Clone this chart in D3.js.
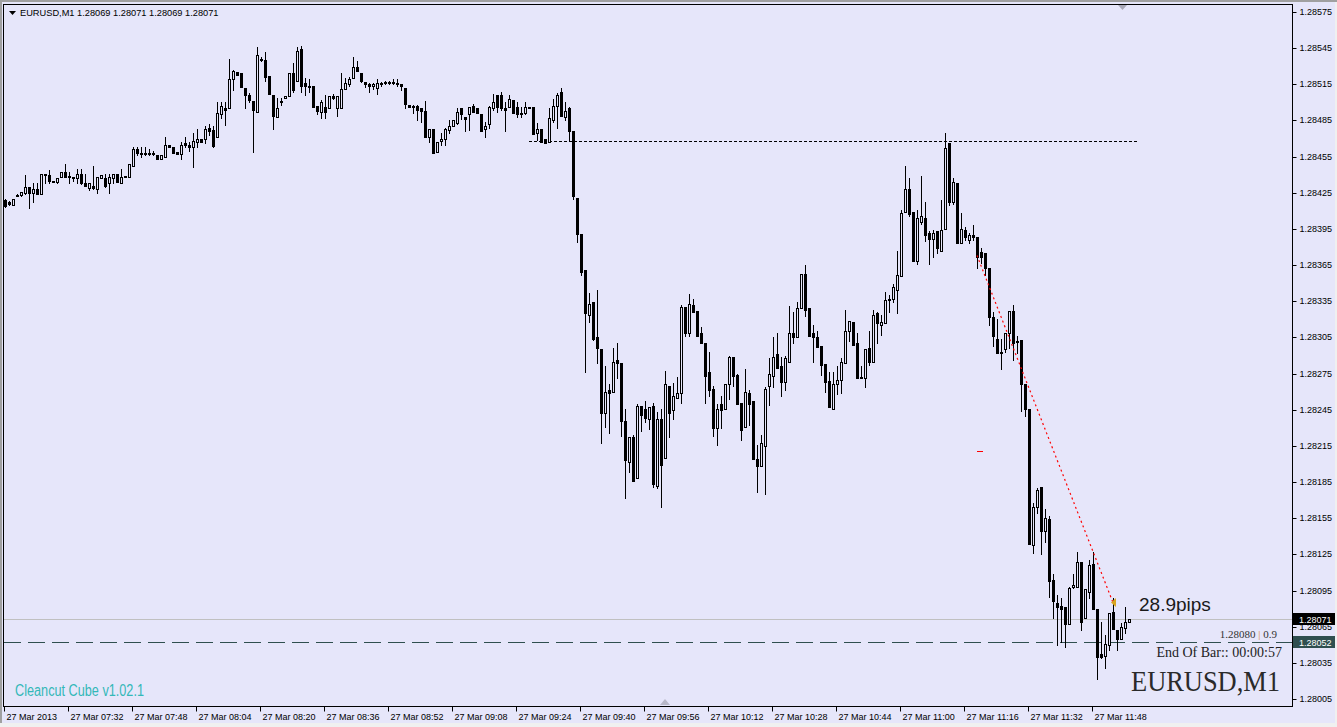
<!DOCTYPE html>
<html><head><meta charset="utf-8">
<script src="https://cdn.jsdelivr.net/npm/d3@7"></script>
<style>html,body{margin:0;padding:0;background:#F0F0F0;overflow:hidden}</style>
</head><body>
<svg id="c" width="1337" height="727"></svg>
<script>
// ---------------- DATA ----------------
const symbol = "EURUSD,M1";
const headerOHLC = [1.28069, 1.28071, 1.28069, 1.28071];

const opens = [
1.28419,1.28417,1.28415,1.28422,1.28423,1.28425,1.28430,1.28425,1.28428,1.28424,
1.28441,1.28440,1.28435,1.28434,1.28438,1.28442,1.28438,1.28438,1.28437,1.28441,
1.28433,1.28429,1.28431,1.28428,1.28437,1.28437,1.28433,1.28437,1.28441,1.28433,
1.28439,1.28438,1.28447,1.28461,1.28458,1.28457,1.28458,1.28457,1.28456,1.28453,
1.28455,1.28465,1.28463,1.28459,1.28457,1.28466,1.28465,1.28463,1.28467,1.28470,
1.28470,1.28479,1.28477,1.28471,1.28490,1.28495,1.28495,1.28519,1.28525,1.28524,
1.28512,1.28506,1.28501,1.28492,1.28535,1.28535,1.28522,1.28506,1.28488,1.28500,
1.28504,1.28505,1.28524,1.28518,1.28544,1.28516,1.28514,1.28514,1.28497,1.28492,
1.28496,1.28495,1.28505,1.28495,1.28495,1.28511,1.28515,1.28520,1.28529,1.28524,
1.28517,1.28515,1.28514,1.28512,1.28516,1.28516,1.28517,1.28516,1.28516,1.28515,
1.28512,1.28498,1.28497,1.28497,1.28495,1.28493,1.28471,1.28478,1.28459,1.28468,
1.28470,1.28477,1.28480,1.28483,1.28495,1.28488,1.28490,1.28497,1.28495,1.28490,
1.28478,1.28482,1.28495,1.28506,1.28506,1.28495,1.28496,1.28502,1.28496,1.28490,
1.28491,1.28496,1.28496,1.28475,1.28478,1.28470,1.28467,1.28485,1.28497,1.28509,
1.28488,1.28495,1.28476,1.28421,1.28391,1.28361,1.28324,1.28334,1.28305,1.28295,
1.28242,1.28261,1.28260,1.28286,1.28284,1.28236,1.28202,1.28222,1.28188,1.28248,
1.28246,1.28237,1.28248,1.28182,1.28237,1.28205,1.28265,1.28245,1.28255,1.28259,
1.28330,1.28309,1.28332,1.28327,1.28309,1.28300,1.28276,1.28262,1.28230,1.28250,
1.28246,1.28266,1.28289,1.28274,1.28251,1.28231,1.28259,1.28252,1.28204,1.28198,
1.28215,1.28265,1.28273,1.28291,1.28281,1.28268,1.28285,1.28309,1.28305,1.28329,
1.28358,1.28329,1.28309,1.28305,1.28298,1.28283,1.28269,1.28246,1.28266,1.28270,
1.28284,1.28310,1.28318,1.28300,1.28272,1.28271,1.28296,1.28285,1.28325,1.28315,
1.28317,1.28336,1.28337,1.28344,1.28356,1.28409,1.28428,1.28409,1.28368,1.28401,
1.28404,1.28392,1.28387,1.28393,1.28377,1.28395,1.28466,1.28417,1.28433,1.28383,
1.28394,1.28386,1.28390,1.28388,1.28376,1.28375,1.28363,1.28322,1.28304,1.28293,
1.28295,1.28309,1.28327,1.28302,1.28303,1.28266,1.28246,1.28133,1.28164,1.28181,
1.28144,1.28154,1.28104,1.28085,1.28082,1.28081,1.28067,1.28098,1.28098,1.28119,
1.28072,1.28094,1.28117,1.28080,1.28042,1.28041,1.28050,1.28077,1.28062,1.28055,
1.28064,1.28069];

const highs = [
1.28420,1.28418,1.28420,1.28424,1.28426,1.28440,1.28430,1.28433,1.28433,1.28441,
1.28441,1.28444,1.28435,1.28437,1.28442,1.28449,1.28442,1.28438,1.28445,1.28445,
1.28441,1.28433,1.28447,1.28438,1.28440,1.28441,1.28441,1.28441,1.28441,1.28445,
1.28439,1.28449,1.28463,1.28463,1.28463,1.28463,1.28461,1.28460,1.28456,1.28456,
1.28471,1.28465,1.28463,1.28459,1.28467,1.28471,1.28467,1.28475,1.28478,1.28470,
1.28480,1.28482,1.28480,1.28500,1.28500,1.28500,1.28536,1.28527,1.28525,1.28524,
1.28512,1.28508,1.28501,1.28546,1.28538,1.28542,1.28522,1.28506,1.28504,1.28504,
1.28505,1.28524,1.28533,1.28546,1.28547,1.28520,1.28519,1.28514,1.28497,1.28502,
1.28506,1.28505,1.28507,1.28505,1.28524,1.28520,1.28521,1.28538,1.28534,1.28524,
1.28517,1.28516,1.28516,1.28519,1.28517,1.28518,1.28518,1.28519,1.28519,1.28515,
1.28512,1.28498,1.28498,1.28498,1.28495,1.28501,1.28478,1.28478,1.28467,1.28475,
1.28479,1.28485,1.28485,1.28495,1.28495,1.28488,1.28496,1.28499,1.28495,1.28490,
1.28484,1.28497,1.28507,1.28506,1.28509,1.28500,1.28506,1.28502,1.28500,1.28496,
1.28500,1.28496,1.28496,1.28483,1.28478,1.28470,1.28495,1.28503,1.28508,1.28512,
1.28500,1.28496,1.28476,1.28421,1.28391,1.28361,1.28342,1.28334,1.28344,1.28295,
1.28281,1.28266,1.28296,1.28300,1.28284,1.28246,1.28222,1.28224,1.28250,1.28248,
1.28252,1.28247,1.28251,1.28243,1.28246,1.28277,1.28265,1.28267,1.28272,1.28332,
1.28330,1.28341,1.28337,1.28327,1.28314,1.28300,1.28293,1.28265,1.28250,1.28256,
1.28266,1.28290,1.28289,1.28275,1.28251,1.28279,1.28261,1.28252,1.28216,1.28224,
1.28264,1.28288,1.28305,1.28309,1.28289,1.28290,1.28331,1.28326,1.28334,1.28358,
1.28365,1.28329,1.28315,1.28310,1.28298,1.28283,1.28276,1.28276,1.28281,1.28288,
1.28328,1.28319,1.28318,1.28309,1.28281,1.28295,1.28310,1.28328,1.28326,1.28324,
1.28343,1.28340,1.28349,1.28377,1.28411,1.28447,1.28437,1.28409,1.28411,1.28439,
1.28417,1.28393,1.28394,1.28393,1.28419,1.28475,1.28466,1.28437,1.28433,1.28408,
1.28397,1.28392,1.28398,1.28388,1.28379,1.28375,1.28363,1.28326,1.28320,1.28304,
1.28309,1.28327,1.28332,1.28306,1.28303,1.28266,1.28246,1.28168,1.28180,1.28181,
1.28163,1.28157,1.28109,1.28091,1.28089,1.28081,1.28098,1.28109,1.28127,1.28119,
1.28096,1.28120,1.28127,1.28080,1.28069,1.28058,1.28076,1.28089,1.28062,1.28068,
1.28081,1.28071];

const lows = [
1.28413,1.28415,1.28415,1.28422,1.28422,1.28424,1.28412,1.28417,1.28424,1.28424,
1.28433,1.28433,1.28434,1.28433,1.28438,1.28438,1.28433,1.28435,1.28433,1.28432,
1.28431,1.28427,1.28428,1.28425,1.28437,1.28430,1.28425,1.28433,1.28434,1.28433,
1.28438,1.28438,1.28447,1.28456,1.28455,1.28456,1.28456,1.28456,1.28453,1.28453,
1.28455,1.28463,1.28458,1.28457,1.28453,1.28463,1.28460,1.28446,1.28463,1.28467,
1.28466,1.28473,1.28463,1.28471,1.28487,1.28481,1.28495,1.28510,1.28523,1.28513,
1.28495,1.28500,1.28459,1.28492,1.28534,1.28518,1.28507,1.28478,1.28488,1.28498,
1.28504,1.28505,1.28509,1.28518,1.28509,1.28506,1.28509,1.28496,1.28490,1.28487,
1.28487,1.28495,1.28503,1.28489,1.28495,1.28511,1.28514,1.28520,1.28526,1.28517,
1.28513,1.28509,1.28511,1.28507,1.28514,1.28515,1.28515,1.28515,1.28514,1.28510,
1.28495,1.28496,1.28491,1.28485,1.28484,1.28471,1.28467,1.28458,1.28459,1.28465,
1.28465,1.28475,1.28480,1.28482,1.28486,1.28476,1.28477,1.28492,1.28491,1.28476,
1.28471,1.28479,1.28494,1.28492,1.28494,1.28476,1.28496,1.28491,1.28488,1.28488,
1.28490,1.28495,1.28474,1.28469,1.28467,1.28466,1.28467,1.28484,1.28479,1.28489,
1.28485,1.28468,1.28420,1.28384,1.28357,1.28276,1.28318,1.28303,1.28284,1.28217,
1.28231,1.28226,1.28260,1.28271,1.28223,1.28172,1.28193,1.28186,1.28188,1.28227,
1.28235,1.28229,1.28181,1.28180,1.28164,1.28205,1.28222,1.28237,1.28255,1.28251,
1.28306,1.28306,1.28326,1.28306,1.28300,1.28251,1.28256,1.28223,1.28216,1.28230,
1.28246,1.28254,1.28265,1.28250,1.28220,1.28231,1.28232,1.28204,1.28177,1.28198,
1.28175,1.28249,1.28264,1.28280,1.28256,1.28261,1.28285,1.28300,1.28305,1.28329,
1.28323,1.28306,1.28285,1.28297,1.28274,1.28260,1.28247,1.28246,1.28258,1.28259,
1.28284,1.28302,1.28299,1.28271,1.28271,1.28264,1.28282,1.28285,1.28300,1.28307,
1.28317,1.28326,1.28334,1.28325,1.28356,1.28409,1.28406,1.28368,1.28366,1.28399,
1.28385,1.28366,1.28372,1.28375,1.28377,1.28395,1.28415,1.28416,1.28383,1.28383,
1.28386,1.28383,1.28386,1.28363,1.28367,1.28357,1.28315,1.28298,1.28292,1.28279,
1.28293,1.28296,1.28286,1.28292,1.28244,1.28240,1.28134,1.28126,1.28159,1.28125,
1.28135,1.28090,1.28072,1.28050,1.28052,1.28048,1.28067,1.28097,1.28098,1.28062,
1.28072,1.28089,1.28080,1.28022,1.28039,1.28031,1.28046,1.28063,1.28046,1.28055,
1.28060,1.28069];

const closes = [
1.28414,1.28416,1.28420,1.28423,1.28426,1.28430,1.28425,1.28428,1.28424,1.28441,
1.28440,1.28435,1.28434,1.28437,1.28442,1.28438,1.28439,1.28437,1.28441,1.28433,
1.28431,1.28433,1.28429,1.28438,1.28440,1.28431,1.28438,1.28441,1.28434,1.28438,
1.28438,1.28449,1.28461,1.28458,1.28457,1.28458,1.28457,1.28458,1.28453,1.28456,
1.28465,1.28463,1.28458,1.28457,1.28465,1.28465,1.28463,1.28468,1.28470,1.28467,
1.28478,1.28476,1.28464,1.28491,1.28497,1.28494,1.28519,1.28526,1.28523,1.28513,
1.28506,1.28502,1.28494,1.28539,1.28536,1.28521,1.28507,1.28489,1.28495,1.28501,
1.28505,1.28524,1.28510,1.28543,1.28514,1.28514,1.28513,1.28496,1.28493,1.28500,
1.28492,1.28505,1.28504,1.28505,1.28511,1.28516,1.28519,1.28529,1.28526,1.28518,
1.28515,1.28514,1.28515,1.28516,1.28515,1.28517,1.28516,1.28517,1.28515,1.28514,
1.28499,1.28496,1.28496,1.28494,1.28493,1.28471,1.28478,1.28458,1.28467,1.28470,
1.28478,1.28480,1.28485,1.28492,1.28490,1.28486,1.28496,1.28492,1.28491,1.28476,
1.28480,1.28496,1.28500,1.28496,1.28495,1.28494,1.28503,1.28491,1.28490,1.28491,
1.28496,1.28495,1.28474,1.28478,1.28467,1.28466,1.28487,1.28497,1.28506,1.28489,
1.28493,1.28476,1.28422,1.28391,1.28359,1.28325,1.28333,1.28304,1.28296,1.28242,
1.28260,1.28259,1.28285,1.28284,1.28236,1.28203,1.28222,1.28186,1.28248,1.28241,
1.28238,1.28247,1.28183,1.28237,1.28199,1.28266,1.28242,1.28256,1.28259,1.28330,
1.28309,1.28333,1.28326,1.28306,1.28300,1.28273,1.28261,1.28230,1.28246,1.28245,
1.28266,1.28289,1.28273,1.28250,1.28228,1.28260,1.28250,1.28204,1.28198,1.28217,
1.28262,1.28275,1.28289,1.28280,1.28268,1.28288,1.28309,1.28305,1.28329,1.28358,
1.28328,1.28306,1.28305,1.28297,1.28282,1.28268,1.28247,1.28266,1.28270,1.28285,
1.28310,1.28319,1.28299,1.28271,1.28271,1.28295,1.28285,1.28324,1.28317,1.28318,
1.28336,1.28337,1.28347,1.28357,1.28408,1.28428,1.28407,1.28368,1.28404,1.28406,
1.28390,1.28387,1.28392,1.28379,1.28394,1.28462,1.28417,1.28434,1.28383,1.28395,
1.28388,1.28390,1.28388,1.28372,1.28372,1.28363,1.28322,1.28306,1.28292,1.28292,
1.28309,1.28327,1.28300,1.28301,1.28266,1.28246,1.28134,1.28164,1.28178,1.28144,
1.28155,1.28103,1.28086,1.28081,1.28080,1.28067,1.28097,1.28100,1.28119,1.28069,
1.28096,1.28116,1.28080,1.28040,1.28040,1.28051,1.28076,1.28063,1.28055,1.28065,
1.28069,1.28071];

const priceTicks = [1.28005,1.28035,1.28065,1.28095,1.28125,1.28155,1.28185,1.28215,1.28245,1.28275,
  1.28305,1.28335,1.28365,1.28395,1.28425,1.28455,1.28485,1.28515,1.28545,1.28575];
const timeLabels = ["27 Mar 2013","27 Mar 07:32","27 Mar 07:48","27 Mar 08:04","27 Mar 08:20","27 Mar 08:36",
  "27 Mar 08:52","27 Mar 09:08","27 Mar 09:24","27 Mar 09:40","27 Mar 09:56","27 Mar 10:12","27 Mar 10:28",
  "27 Mar 10:44","27 Mar 11:00","27 Mar 11:16","27 Mar 11:32","27 Mar 11:48"];
const timeLabelBars = [0,16,32,48,64,80,96,112,128,144,160,176,192,208,224,240,256,272];

const bidPrice = 1.28071;
const levelPrice = 1.28052;
const hLinePrice = 1.28468, hLineFrom = 131, hLineTo = 283;
const trendFrom = [243, 1.28373], trendTo = [277, 1.28085];
const redMark = [243, 1.28211];
const pipsText = "28.9pips";
const infoParts = ["1.28080 ", "|", " 0.9"];
const endOfBar = "End Of Bar:: 00:00:57";
const brand = "Cleancut Cube v1.02.1";

// ---------------- DRAW ----------------
const BG = "#E6E6FA";
const svg = d3.select("#c");
svg.append("rect").attr("x",0).attr("y",0).attr("width",1335).attr("height",723).attr("fill",BG);
svg.append("rect").attr("x",0).attr("y",0).attr("width",1337).attr("height",2).attr("fill","#A0A0A0");
svg.append("rect").attr("x",0).attr("y",0).attr("width",2).attr("height",723).attr("fill","#A0A0A0");

const x = d3.scaleLinear().domain([0, 1]).range([5, 9]);
const y = d3.scaleLinear().domain([1.28005, 1.28575]).range([699, 12]);
const X = i => Math.round(x(i));
const Y = p => Math.round(y(p));

const L = 3, T = 4, R = 1292, B = 706;
const font = "'Liberation Sans', Arial, sans-serif";
const serif = "'Liberation Serif', 'Times New Roman', serif";

// header
svg.append("path").attr("d","M9,11 L16,11 L12.5,15 Z").attr("fill","#000");
svg.append("text").attr("x",20).attr("y",16).attr("font-family",font).attr("font-size",9.25).attr("fill","#000")
  .text(symbol + "  " + headerOHLC.map(d=>d.toFixed(5)).join(" "));

// clip for plot
svg.append("clipPath").attr("id","plot").append("rect").attr("x",L+1).attr("y",T+1).attr("width",R-L-1).attr("height",B-T-1);
const plot = svg.append("g").attr("clip-path","url(#plot)");

// bid line
plot.append("line").attr("x1",L).attr("x2",R).attr("y1",Y(bidPrice)+0.5).attr("y2",Y(bidPrice)+0.5)
  .attr("stroke","#C0C0C0").attr("stroke-width",1);
// level dashed line
plot.append("line").attr("x1",L+1).attr("x2",R).attr("y1",Y(levelPrice)+0.5).attr("y2",Y(levelPrice)+0.5)
  .attr("stroke","#2F4F4F").attr("stroke-width",1).attr("stroke-dasharray","17,7");
// dotted horizontal line
plot.append("line").attr("x1",x(hLineFrom)).attr("x2",x(hLineTo)).attr("y1",Y(hLinePrice)+0.5).attr("y2",Y(hLinePrice)+0.5)
  .attr("stroke","#000").attr("stroke-width",1).attr("stroke-dasharray","3,2");

// candles
const idx = d3.range(opens.length);
const cg = plot.append("g");
idx.forEach(i => {
  const cx = X(i);
  const yh = Y(highs[i]), yl = Y(lows[i]), yo = Y(opens[i]), yc = Y(closes[i]);
  cg.append("rect").attr("x",cx).attr("y",yh).attr("width",1).attr("height",Math.max(1,yl-yh+1)).attr("fill","#000");
  const top = Math.min(yo,yc), bot = Math.max(yo,yc);
  cg.append("rect").attr("x",cx-1).attr("y",top).attr("width",3).attr("height",bot-top+1).attr("fill","#000");
  if (closes[i] > opens[i] && bot-top-1 > 0) {
    cg.append("rect").attr("x",cx).attr("y",top+1).attr("width",1).attr("height",bot-top-1).attr("fill",BG);
  }
});

// red trend line
plot.append("line").attr("x1",x(trendFrom[0])).attr("y1",y(trendFrom[1])).attr("x2",x(trendTo[0])).attr("y2",y(trendTo[1]))
  .attr("stroke","#FF0000").attr("stroke-width",1.2).attr("stroke-dasharray","2,3");
const ex = x(trendTo[0]), ey = y(trendTo[1]);
plot.append("path").attr("d",`M${ex-2},${ey} L${ex+3},${ey-4.5} L${ex+3},${ey+4.5} Z`).attr("fill","#DAA520");
// small red mark
plot.append("rect").attr("x",X(redMark[0])).attr("y",Y(redMark[1])).attr("width",6).attr("height",1).attr("fill","#FF0000");

// texts inside plot
svg.append("text").attr("x",1139).attr("y",611).attr("font-family",font).attr("font-size",19).attr("fill","#1a1a1a").text(pipsText);
const info = svg.append("text").attr("x",1277).attr("y",638).attr("text-anchor","end").attr("font-family",serif).attr("font-size",11).attr("fill","#333");
info.append("tspan").text(infoParts[0]);
info.append("tspan").attr("fill","#E08A2A").text(infoParts[1]);
info.append("tspan").text(infoParts[2]);
svg.append("text").attr("x",1282).attr("y",657).attr("text-anchor","end").attr("font-family",serif).attr("font-size",14).attr("fill","#222").text(endOfBar);
svg.append("text").attr("x",1131).attr("y",691).attr("font-family",serif).attr("font-size",29)
  .attr("textLength",149).attr("lengthAdjust","spacingAndGlyphs").attr("fill","#2a2a2a").text(symbol);
svg.append("text").attr("x",15).attr("y",696).attr("font-family",font).attr("font-size",16)
  .attr("textLength",129).attr("lengthAdjust","spacingAndGlyphs").attr("fill","#33B8B8").text(brand);

// shift markers
svg.append("path").attr("d","M1118,5 L1127,5 L1122.5,10 Z").attr("fill","#A8A8B8");
svg.append("path").attr("d","M660,705 L670,705 L665,699 Z").attr("fill","#B8B8C8");

// frame
svg.append("rect").attr("x",L+0.5).attr("y",T+0.5).attr("width",R-L).attr("height",B-T)
  .attr("fill","none").attr("stroke","#000").attr("stroke-width",1);

// y axis
const yAxis = d3.axisRight(y).tickValues(priceTicks).tickFormat(d3.format(".5f")).tickSize(4).tickPadding(3);
const ya = svg.append("g").attr("transform",`translate(${R+0.5},0.5)`).call(yAxis);
ya.select(".domain").remove();
ya.selectAll("line").attr("stroke","#000");
ya.selectAll("text").attr("font-family",font).attr("font-size",9).attr("fill","#000");
ya.selectAll(".tick").attr("transform",d=>`translate(0,${Y(d)})`);

// price boxes
[[bidPrice,"#000"],[levelPrice,"#2F4F4F"]].forEach(([p,c])=>{
  const yy = y(p);
  svg.append("rect").attr("x",1293).attr("y",Math.round(yy-6)).attr("width",42).attr("height",12).attr("fill",c);
  svg.append("text").attr("x",1299).attr("y",Math.round(yy)+3.5).attr("font-family",font).attr("font-size",9)
    .attr("fill","#fff").text(p.toFixed(5));
});

// x axis
const xAxis = d3.axisBottom(x).tickValues(timeLabelBars).tickFormat((d,i)=>timeLabels[i]).tickSize(5);
const xa = svg.append("g").attr("transform",`translate(0.5,${B+0.5})`).call(xAxis);
xa.select(".domain").remove();
xa.selectAll(".tick").attr("transform",d=>`translate(${X(d)-1},0)`);
xa.selectAll("line").attr("stroke","#000");
xa.selectAll("text").attr("text-anchor","start").attr("x",2).attr("y",13).attr("dy",0)
  .attr("font-family",font).attr("font-size",9).attr("fill","#000");
</script>
</body></html>
